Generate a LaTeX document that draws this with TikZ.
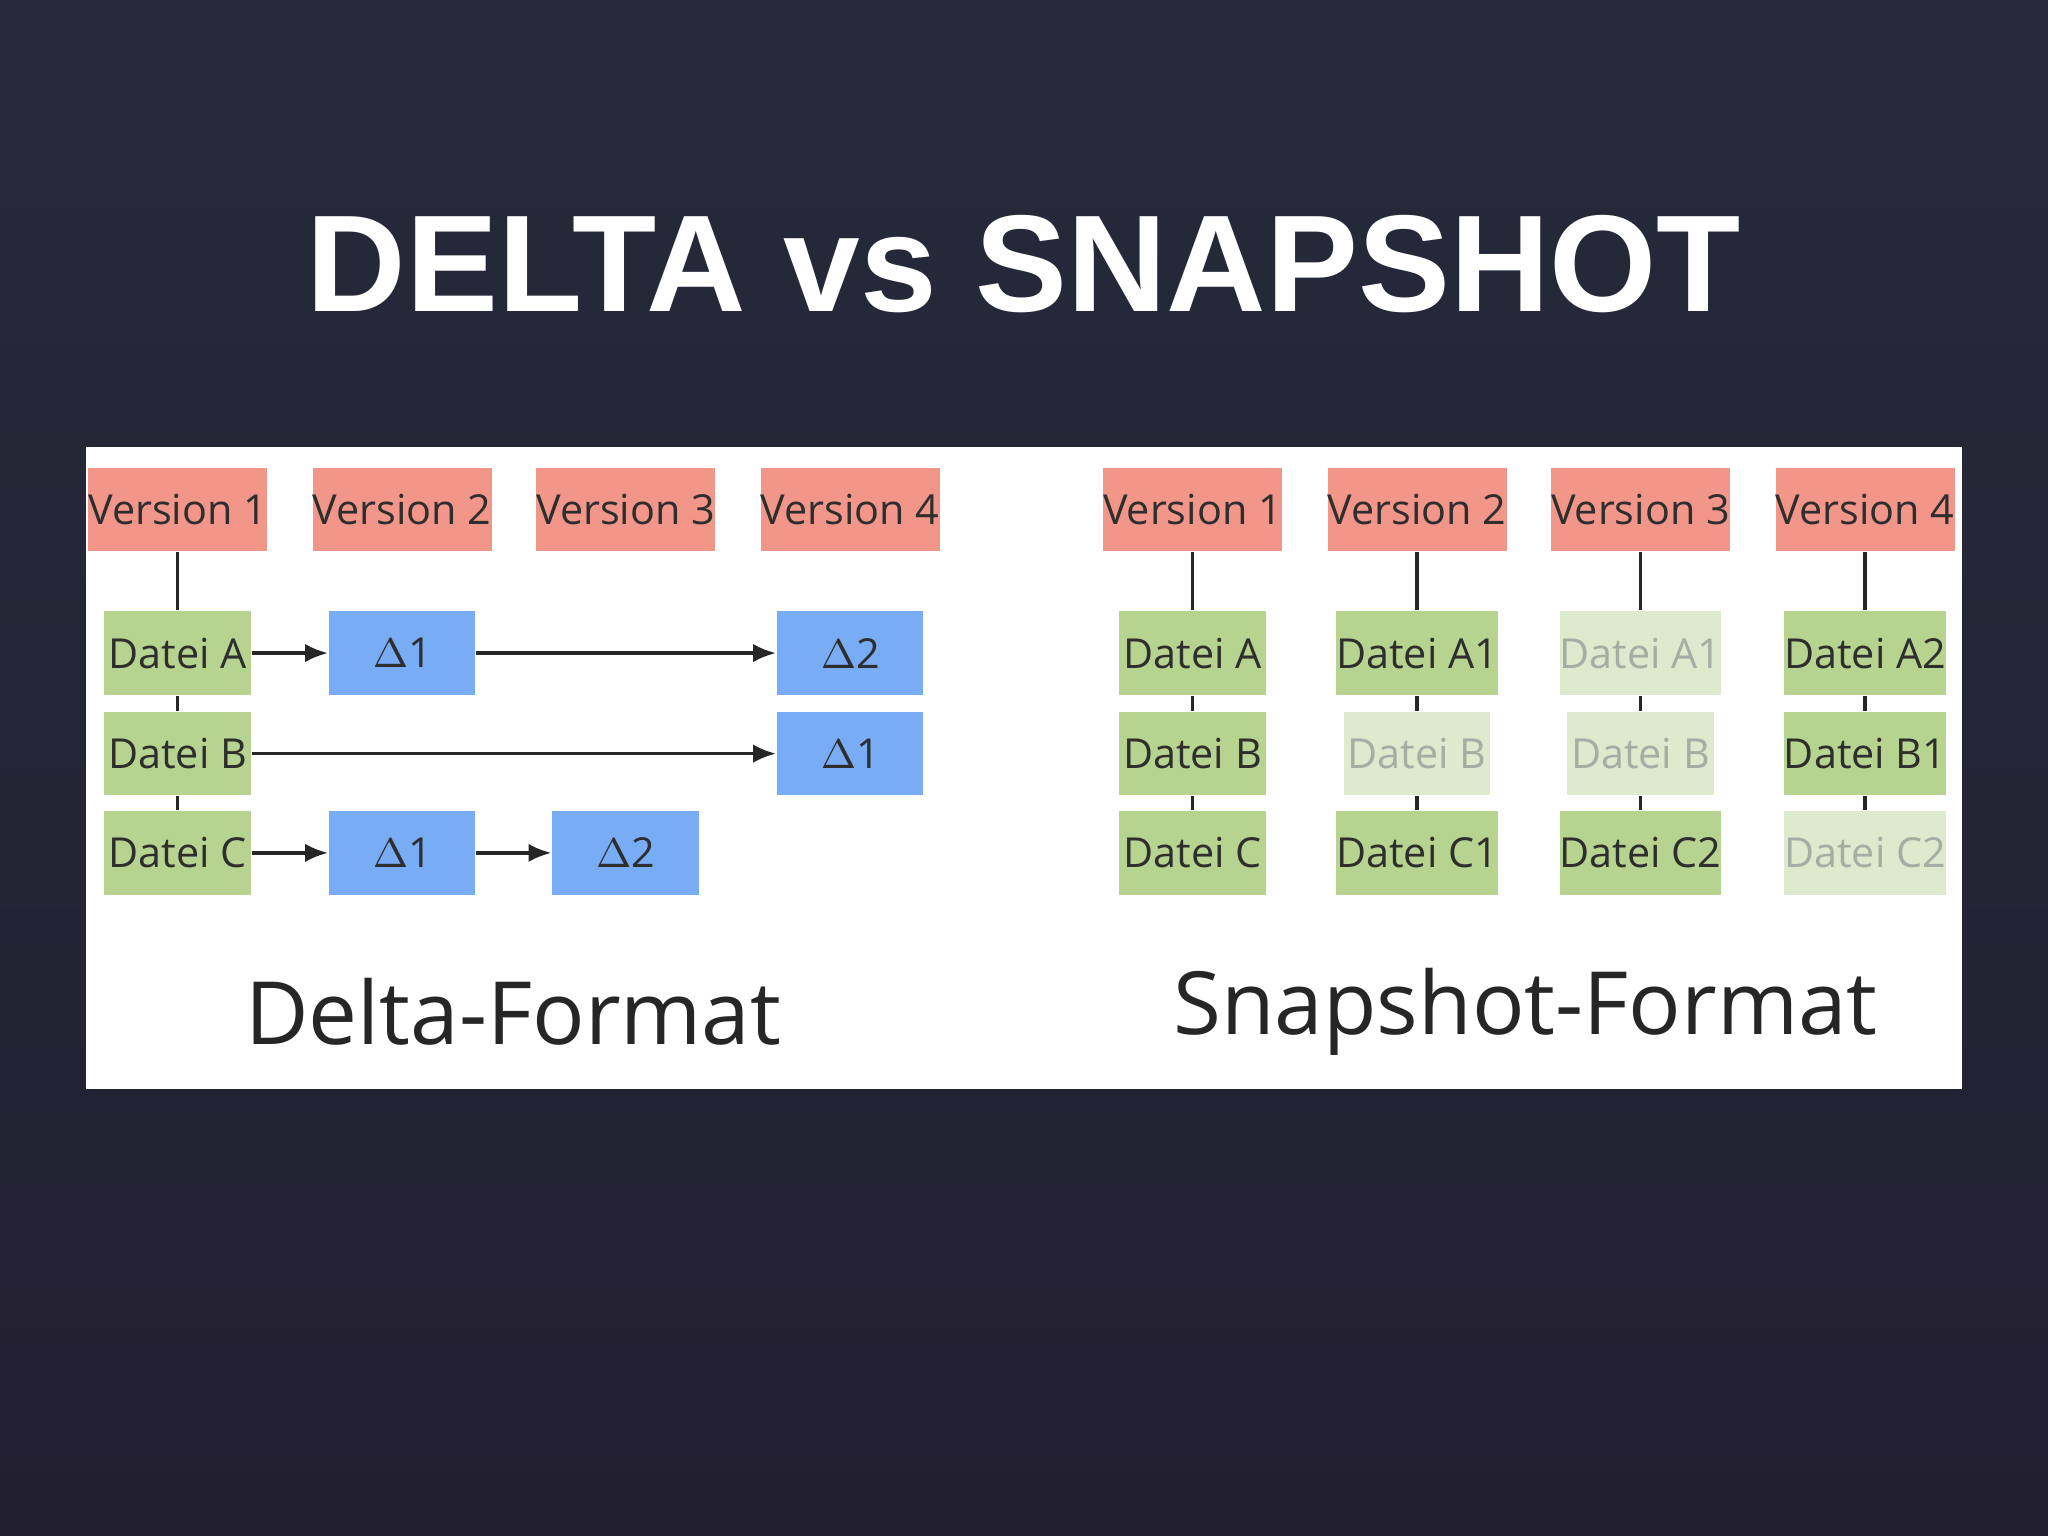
\documentclass[tikz,border=0pt]{standalone}
\usepackage{fontspec}
\setmainfont{Open Sans}
\newfontfamily\titlefont{Liberation Sans}
\usetikzlibrary{arrows.meta}
\definecolor{bgtop}{HTML}{262A3A}
\definecolor{bgbot}{HTML}{221F31}
\definecolor{salmon}{HTML}{F2968A}
\definecolor{grn}{HTML}{B6D48F}
\definecolor{lgrn}{HTML}{DDEACD}
\definecolor{blu}{HTML}{78ACF5}
\definecolor{txt}{HTML}{2E2E2E}
\definecolor{fade}{HTML}{A6ADA2}
\tikzset{
 bx/.style={minimum width=1.12cm,minimum height=0.64cm,inner sep=0pt,font=\fontsize{9}{10}\selectfont,text=txt},
 ver/.style={bx,fill=salmon},
 fil/.style={bx,fill=grn},
 lfil/.style={bx,fill=lgrn,text=fade},
 del/.style={bx,fill=blu},
 ln/.style={line width=0.8pt,draw=black!85},
 ar/.style={ln,-{Latex[length=5pt,width=4pt]}},
 captxt/.style={font=\fontsize{19}{22}\selectfont,text=black!85}
}
\begin{document}
\begin{tikzpicture}[x=0.01cm,y=-0.01cm]
\shade[top color=bgtop,bottom color=bgbot] (0,0) rectangle (1568,1176);
\useasboundingbox (0,0) rectangle (1568,1176);
\node[font=\titlefont\bfseries\fontsize{30}{34}\selectfont,text=white] (title) at (784,202) {DELTA vs SNAPSHOT};
\fill[white] (66,342) rectangle (1502,834);
% Delta
\foreach \x/\n in {136/1,308/2,479/3,651/4}{\node[ver] (dv\n) at (\x,390) {Version \n};}
\node[fil] (da) at (136,500) {Datei A};
\node[fil] (db) at (136,577) {Datei B};
\node[fil] (dc) at (136,653) {Datei C};
\node[del] (da1) at (308,500) {$\Delta$1};
\node[del] (da2) at (651,500) {$\Delta$2};
\node[del] (db1) at (651,577) {$\Delta$1};
\node[del] (dc1) at (308,653) {$\Delta$1};
\node[del] (dc2) at (479,653) {$\Delta$2};
\draw[ln] (dv1) -- (da); \draw[ln] (da) -- (db); \draw[ln] (db) -- (dc);
\draw[ar] (da) -- (da1); \draw[ar] (da1) -- (da2);
\draw[ar] (db) -- (db1);
\draw[ar] (dc) -- (dc1); \draw[ar] (dc1) -- (dc2);
\node[captxt] (dcap) at (393,775) {Delta-Format};
% Snapshot
\foreach \x/\n in {913/1,1085/2,1256/3,1428/4}{\node[ver] (sv\n) at (\x,390) {Version \n};}
\node[fil] (sa1) at (913,500) {Datei A};
\node[fil] (sb1) at (913,577) {Datei B};
\node[fil] (sc1) at (913,653) {Datei C};
\node[fil] (sa2) at (1085,500) {Datei A1};
\node[lfil] (sb2) at (1085,577) {Datei B};
\node[fil] (sc2) at (1085,653) {Datei C1};
\node[lfil] (sa3) at (1256,500) {Datei A1};
\node[lfil] (sb3) at (1256,577) {Datei B};
\node[fil] (sc3) at (1256,653) {Datei C2};
\node[fil] (sa4) at (1428,500) {Datei A2};
\node[fil] (sb4) at (1428,577) {Datei B1};
\node[lfil] (sc4) at (1428,653) {Datei C2};
\foreach \n in {1,2,3,4}{
 \draw[ln] (sv\n) -- (sa\n); \draw[ln] (sa\n) -- (sb\n); \draw[ln] (sb\n) -- (sc\n);}
\node[captxt] (scap) at (1168,775) {Snapshot-Format};
\end{tikzpicture}
\end{document}
